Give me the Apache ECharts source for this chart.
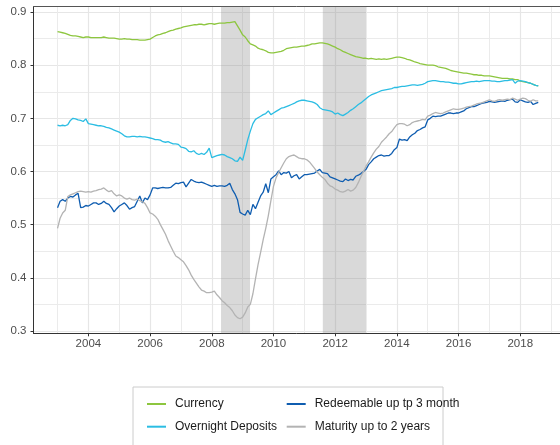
<!DOCTYPE html>
<html>
<head>
<meta charset="utf-8">
<script src="https://cdn.jsdelivr.net/npm/echarts@6/dist/echarts.min.js"></script>
<style>
  html, body { margin: 0; padding: 0; background: #ffffff; }
  #chart { width: 560px; height: 445px; }
</style>
</head>
<body>
<div id="chart"></div>
<script>
// ---- Data (monthly, Jan 2003 .. Aug 2018) ----
const startYear = 2003;
const startMonth = 1;

const currency = [
  0.863, 0.862, 0.861, 0.860, 0.858, 0.856, 0.855, 0.855, 0.854, 0.853, 0.852, 0.853,
  0.853, 0.852, 0.852, 0.852, 0.852, 0.852, 0.853, 0.852, 0.851, 0.851, 0.851, 0.850,
  0.849, 0.849, 0.850, 0.849, 0.849, 0.848, 0.848, 0.848, 0.847, 0.847, 0.847, 0.848,
  0.849, 0.852, 0.855, 0.857, 0.858, 0.860, 0.861, 0.863, 0.865, 0.866, 0.868, 0.869,
  0.870, 0.872, 0.873, 0.874, 0.875, 0.876, 0.876, 0.877, 0.877, 0.876, 0.877, 0.878,
  0.878, 0.877, 0.878, 0.879, 0.879, 0.879, 0.880, 0.880, 0.881, 0.882, 0.874, 0.866,
  0.857, 0.853, 0.846, 0.840, 0.838, 0.836, 0.832, 0.830, 0.829, 0.827, 0.824, 0.823,
  0.823, 0.824, 0.825, 0.826, 0.828, 0.831, 0.832, 0.833, 0.834, 0.834, 0.835, 0.836,
  0.836, 0.837, 0.838, 0.840, 0.840, 0.841, 0.842, 0.842, 0.841, 0.840, 0.838, 0.836,
  0.834, 0.831, 0.829, 0.826, 0.824, 0.822, 0.820, 0.818, 0.816, 0.815, 0.814, 0.813,
  0.813, 0.812, 0.813, 0.812, 0.811, 0.812, 0.811, 0.812, 0.811, 0.812, 0.813, 0.814,
  0.815, 0.815, 0.814, 0.813, 0.811, 0.810, 0.808, 0.806, 0.805, 0.803, 0.802, 0.801,
  0.800, 0.800, 0.800, 0.799, 0.797, 0.796, 0.795, 0.794, 0.792, 0.790, 0.789, 0.788,
  0.787, 0.786, 0.785, 0.785, 0.784, 0.783, 0.782, 0.782, 0.781, 0.781, 0.780, 0.780,
  0.780, 0.779, 0.778, 0.777, 0.776, 0.775, 0.775, 0.775, 0.774, 0.774, 0.773, 0.773,
  0.770, 0.769, 0.768, 0.767, 0.766, 0.764, 0.762, 0.761
];

const overnight = [
  0.687, 0.686, 0.687, 0.686, 0.688, 0.696, 0.700, 0.699, 0.697, 0.696, 0.694, 0.699,
  0.690, 0.689, 0.688, 0.687, 0.686, 0.686, 0.685, 0.683, 0.682, 0.680, 0.678, 0.676,
  0.674, 0.671, 0.667, 0.665, 0.665, 0.666, 0.666, 0.665, 0.666, 0.665, 0.665, 0.664,
  0.663, 0.662, 0.660, 0.660, 0.659, 0.656, 0.655, 0.656, 0.654, 0.652, 0.652, 0.651,
  0.646, 0.645, 0.643, 0.638, 0.637, 0.639, 0.634, 0.632, 0.634, 0.632, 0.636, 0.644,
  0.626, 0.628, 0.630, 0.631, 0.632, 0.631, 0.628, 0.626, 0.624, 0.620, 0.619, 0.627,
  0.621, 0.640, 0.660, 0.676, 0.690, 0.698, 0.701, 0.704, 0.707, 0.709, 0.714, 0.707,
  0.710, 0.713, 0.716, 0.719, 0.720, 0.722, 0.724, 0.726, 0.728, 0.731, 0.733, 0.734,
  0.734, 0.733, 0.732, 0.731, 0.729, 0.726, 0.720, 0.717, 0.716, 0.715, 0.714, 0.712,
  0.708, 0.710, 0.707, 0.705, 0.708, 0.711, 0.715, 0.718, 0.722, 0.726, 0.729, 0.733,
  0.737, 0.741, 0.744, 0.746, 0.748, 0.750, 0.752, 0.753, 0.754, 0.755, 0.756, 0.758,
  0.758, 0.759, 0.760, 0.760, 0.761, 0.762, 0.763, 0.763, 0.762, 0.763, 0.764, 0.766,
  0.769, 0.770, 0.771, 0.771, 0.770, 0.769, 0.769, 0.768, 0.768, 0.767, 0.766, 0.766,
  0.765, 0.765, 0.766, 0.767, 0.768, 0.769, 0.769, 0.770, 0.769, 0.770, 0.771, 0.771,
  0.771, 0.770, 0.770, 0.769, 0.769, 0.770, 0.771, 0.771, 0.772, 0.773, 0.766, 0.770,
  0.771, 0.770, 0.769, 0.767, 0.766, 0.764, 0.762, 0.761
];

const redeemable = [
  0.532, 0.544, 0.547, 0.544, 0.550, 0.553, 0.552, 0.556, 0.559, 0.532, 0.533, 0.536,
  0.535, 0.538, 0.541, 0.541, 0.538, 0.540, 0.544, 0.540, 0.538, 0.532, 0.524, 0.530,
  0.535, 0.538, 0.541, 0.536, 0.529, 0.532, 0.534, 0.544, 0.554, 0.541, 0.550, 0.547,
  0.556, 0.569, 0.569, 0.568, 0.569, 0.570, 0.569, 0.569, 0.570, 0.574, 0.578, 0.577,
  0.579, 0.580, 0.571, 0.578, 0.585, 0.582, 0.580, 0.579, 0.580, 0.578, 0.576, 0.574,
  0.572, 0.574, 0.572, 0.573, 0.573, 0.572, 0.574, 0.578, 0.566, 0.558, 0.547, 0.523,
  0.520, 0.518, 0.527, 0.519, 0.538, 0.530, 0.542, 0.554, 0.561, 0.577, 0.560, 0.586,
  0.590, 0.594, 0.601, 0.594, 0.598, 0.597, 0.600, 0.588, 0.592, 0.594, 0.586, 0.590,
  0.594, 0.594, 0.595, 0.596, 0.597, 0.601, 0.604, 0.598, 0.597, 0.596, 0.590, 0.588,
  0.586, 0.584, 0.582, 0.581, 0.586, 0.583, 0.585, 0.584, 0.591, 0.593, 0.596, 0.600,
  0.604, 0.613, 0.618, 0.624, 0.627, 0.630, 0.631, 0.629, 0.630, 0.630, 0.634, 0.641,
  0.645, 0.661, 0.659, 0.660, 0.658, 0.665, 0.669, 0.672, 0.677, 0.679, 0.682, 0.684,
  0.697, 0.700, 0.704, 0.703, 0.704, 0.704, 0.706, 0.708, 0.710, 0.710, 0.709, 0.710,
  0.710, 0.712, 0.714, 0.718, 0.720, 0.722, 0.722, 0.724, 0.726, 0.728, 0.729, 0.730,
  0.732, 0.731, 0.730, 0.731, 0.732, 0.733, 0.732, 0.734, 0.735, 0.736, 0.731, 0.730,
  0.735, 0.733, 0.731, 0.730, 0.732, 0.726, 0.728, 0.730
];

const maturity = [
  0.493, 0.512, 0.522, 0.527, 0.553, 0.556, 0.558, 0.560, 0.562, 0.563, 0.562, 0.561,
  0.562, 0.561, 0.563, 0.564, 0.566, 0.567, 0.569, 0.565, 0.562, 0.564, 0.558, 0.554,
  0.556, 0.554, 0.550, 0.548, 0.550, 0.547, 0.546, 0.548, 0.545, 0.543, 0.540, 0.532,
  0.522, 0.520, 0.516, 0.510, 0.500, 0.491, 0.482, 0.470, 0.460, 0.450, 0.441, 0.438,
  0.434, 0.430, 0.423, 0.415, 0.405, 0.397, 0.390, 0.383, 0.377, 0.375, 0.372, 0.372,
  0.373, 0.375, 0.368, 0.363, 0.357, 0.353, 0.348, 0.344, 0.338, 0.330, 0.325, 0.323,
  0.326, 0.334, 0.345, 0.350, 0.370, 0.398, 0.425, 0.448, 0.472, 0.493, 0.517, 0.545,
  0.572, 0.588, 0.598, 0.607, 0.616, 0.624, 0.628, 0.630, 0.631, 0.628, 0.625, 0.624,
  0.624, 0.622, 0.618, 0.612, 0.606, 0.599, 0.594, 0.589, 0.585, 0.578, 0.573, 0.571,
  0.567, 0.565, 0.562, 0.561, 0.563, 0.566, 0.563, 0.565, 0.570, 0.579, 0.590, 0.600,
  0.610, 0.618, 0.627, 0.635, 0.642, 0.647, 0.655, 0.660, 0.665, 0.671, 0.675, 0.682,
  0.688, 0.690, 0.690, 0.689, 0.686, 0.688, 0.692, 0.694, 0.695, 0.696, 0.698, 0.697,
  0.704, 0.706, 0.709, 0.711, 0.710, 0.709, 0.710, 0.712, 0.714, 0.716, 0.718, 0.717,
  0.717, 0.718, 0.719, 0.721, 0.722, 0.723, 0.725, 0.727, 0.728, 0.729, 0.731, 0.733,
  0.735, 0.733, 0.732, 0.734, 0.735, 0.734, 0.735, 0.736, 0.735, 0.738, 0.736, 0.734,
  0.736, 0.738, 0.737, 0.734, 0.732, 0.735, 0.733, 0.733
];

const seriesNames = ['Currency', 'Overnight Deposits', 'Redeemable up tp 3 month', 'Maturity up to 2 years'];
const seriesColors = ['#8DC63F', '#2BBDE3', '#0F5DB0', '#B3B3B3'];

const xMajorTicks = [2004, 2006, 2008, 2010, 2012, 2014, 2016, 2018];
const xMinorTicks = [2003, 2005, 2007, 2009, 2011, 2013, 2015, 2017, 2019];
const yMajorTicks = [0.3, 0.4, 0.5, 0.6, 0.7, 0.8, 0.9];
const yMinorTicks = [0.35, 0.45, 0.55, 0.65, 0.75, 0.85];

// shaded periods (start, end) in decimal years
const shadedPeriods = [[2008.30, 2009.24], [2011.60, 2013.00]];

// ---- Build ----
const months = currency.map((_, i) => {
  const m = startMonth - 1 + i;
  return (startYear + Math.floor(m / 12)) + '-' + String((m % 12) + 1).padStart(2, '0');
});
const toDec = s => { const [y, m] = s.split('-').map(Number); return y + (m - 1) / 12; };
const xs = months.map(toDec);
const allValues = [currency, overnight, redeemable, maturity];

const FONT = '"Liberation Sans", Arial, Helvetica, sans-serif';
const xMin = 2002.221, xMax = 2019.288;
const yMin = 0.2956, yMax = 0.910;

const chart = echarts.init(document.getElementById('chart'), null, { renderer: 'canvas' });

const lineSeries = seriesNames.map((name, k) => ({
  name: name,
  type: 'line',
  xAxisIndex: 0,
  yAxisIndex: 0,
  data: allValues[k].map((v, i) => [xs[i], v]),
  showSymbol: false,
  symbol: 'none',
  color: seriesColors[k],
  lineStyle: { width: 1.3, color: seriesColors[k] },
  z: 3 + k,
  animation: false
}));

const shadeSeries = {
  name: 'shade',
  type: 'line',
  data: [],
  z: 1,
  silent: true,
  markArea: {
    silent: true,
    itemStyle: { color: 'rgba(140,140,140,0.33)' },
    data: shadedPeriods.map(p => [{ xAxis: p[0] }, { xAxis: p[1] }])
  }
};

const option = {
  animation: false,
  backgroundColor: '#ffffff',
  textStyle: { fontFamily: FONT },
  grid: {
    left: 33.5, top: 6.7, right: 0, bottom: 111.7,
    show: false
  },
  xAxis: [
    {
      type: 'value', min: xMin, max: xMax, position: 'bottom',
      axisLine: { show: true, lineStyle: { color: '#333', width: 1 } },
      axisTick: { show: true, length: 3, customValues: xMajorTicks, lineStyle: { color: '#333' } },
      axisLabel: { customValues: xMajorTicks, color: '#4d4d4d', fontSize: 11.5, margin: 5, fontFamily: FONT,
                   formatter: v => String(Math.round(v)) },
      splitLine: { show: true, lineStyle: { color: '#e6e6e6', width: 1.2 } }
    },
    {
      type: 'value', min: xMin, max: xMax, position: 'top',
      axisLine: { show: true, onZero: false, lineStyle: { color: '#555', width: 1 } },
      axisTick: { show: false, customValues: xMinorTicks },
      axisLabel: { show: false, customValues: xMinorTicks },
      splitLine: { show: true, lineStyle: { color: '#ebebeb', width: 1 } }
    }
  ],
  yAxis: [
    {
      type: 'value', min: yMin, max: yMax,
      axisLine: { show: true, lineStyle: { color: '#333', width: 1 } },
      axisTick: { show: true, length: 3, customValues: yMajorTicks, lineStyle: { color: '#333' } },
      axisLabel: { customValues: yMajorTicks, color: '#4d4d4d', fontSize: 11.5, margin: 7, fontFamily: FONT,
                   formatter: v => v.toFixed(1) },
      splitLine: { show: true, lineStyle: { color: '#e6e6e6', width: 1.2 } }
    },
    {
      type: 'value', min: yMin, max: yMax, position: 'left',
      axisLine: { show: false },
      axisTick: { show: false, customValues: yMinorTicks },
      axisLabel: { show: false, customValues: yMinorTicks },
      splitLine: { show: true, lineStyle: { color: '#ebebeb', width: 1 } }
    }
  ],
  legend: [
    {
      data: [seriesNames[0], seriesNames[1]],
      orient: 'vertical', left: 147, top: 397, padding: 0,
      icon: 'rect', itemWidth: 19, itemHeight: 2, itemGap: 8.7,
      textStyle: { fontSize: 12, color: '#1a1a1a', fontFamily: FONT, lineHeight: 14, padding: [0, 0, 0, 4] }
    },
    {
      data: [seriesNames[2], seriesNames[3]],
      orient: 'vertical', left: 286.7, top: 397, padding: 0,
      icon: 'rect', itemWidth: 19, itemHeight: 2, itemGap: 8.7,
      textStyle: { fontSize: 12, color: '#1a1a1a', fontFamily: FONT, lineHeight: 14, padding: [0, 0, 0, 4] }
    }
  ],
  graphic: [
    {
      type: 'rect', left: 130.5, top: 384.5, silent: true,
      shape: { width: 310, height: 59 },
      style: { fill: 'none', stroke: '#cccccc', lineWidth: 1 }
    }
  ],
  series: [shadeSeries].concat(lineSeries)
};

chart.setOption(option);
</script>
</body>
</html>
